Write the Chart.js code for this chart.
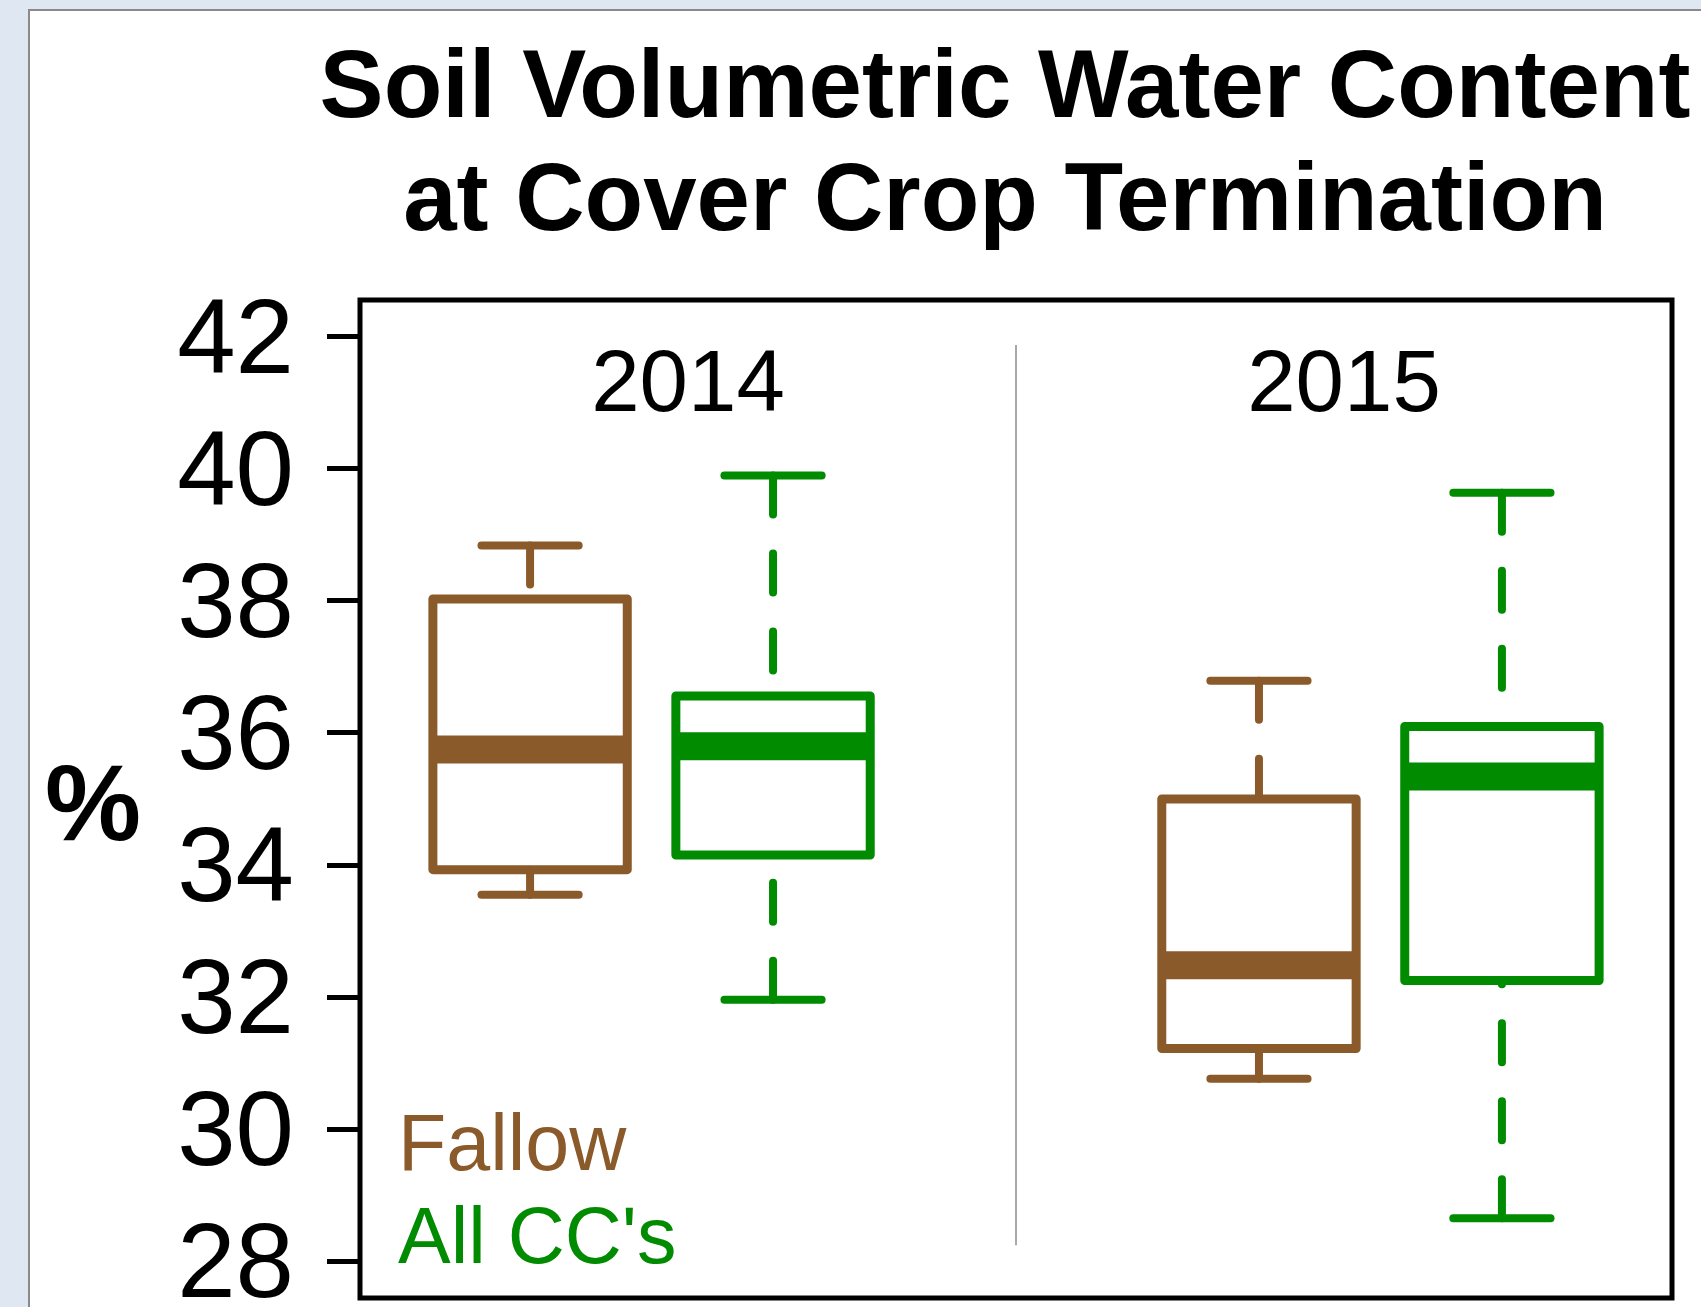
<!DOCTYPE html>
<html>
<head>
<meta charset="utf-8">
<script src="https://cdn.jsdelivr.net/npm/chart.js@4.4.0/dist/chart.umd.min.js"></script>
<style>
    html, body { margin: 0; padding: 0; background: #dfe7f2; overflow: hidden; }
    #panel { position: absolute; left: 28px; top: 9px; width: 1700px; height: 1320px; background: #fff; border: 2px solid #8a8a8a; }
    #chart { position: absolute; left: 0; top: 0; }
</style>
</head>
<body>
<div id="panel"></div>
<canvas id="chart" width="1701" height="1307"></canvas>
<script>
// box plot statistics, one entry per box (left to right)
const groups = ['Fallow', "All CC's", 'Fallow', "All CC's"];
const positions = [1, 2, 4, 5];
const upperWhisker = [38.84, 39.90, 36.79, 39.64];
const q3 = [38.03, 36.56, 35.00, 36.10];
const median = [35.75, 35.80, 32.48, 35.34];
const q1 = [33.93, 34.15, 31.22, 32.25];
const lowerWhisker = [33.55, 31.96, 30.76, 28.65];

const years = ['2014', '2015'];
const yTicks = [28, 30, 32, 34, 36, 38, 40, 42];
const legendLabels = ['Fallow', "All CC's"];
const dividerX = 3;
const dividerSpan = [41.88, 28.24];

const colors = { 'Fallow': '#8B5A2B', "All CC's": '#008B00' };
const family = '"Liberation Sans", Arial, Helvetica, sans-serif';
const boxHalf = 0.4;
const stapleHalf = 0.2;

const datasets = [];

// panel divider
datasets.push({
    data: [{x: dividerX, y: dividerSpan[0]}, {x: dividerX, y: dividerSpan[1]}],
    borderColor: '#a8a8a8', borderWidth: 2, order: 4
});

positions.forEach((x, i) => {
    const col = colors[groups[i]];
    const line = { borderColor: col, pointRadius: 0 };
    // dashed whiskers, drawn from the end toward the box
    datasets.push({ ...line, data: [{x, y: upperWhisker[i]}, {x, y: q3[i]}], borderWidth: 8, borderDash: [39, 39], borderCapStyle: 'round', order: 3 });
    datasets.push({ ...line, data: [{x, y: lowerWhisker[i]}, {x, y: q1[i]}], borderWidth: 8, borderDash: [39, 39], borderCapStyle: 'round', order: 3 });
    // staples
    datasets.push({ ...line, data: [{x: x - stapleHalf, y: upperWhisker[i]}, {x: x + stapleHalf, y: upperWhisker[i]}], borderWidth: 8, borderCapStyle: 'round', order: 2 });
    datasets.push({ ...line, data: [{x: x - stapleHalf, y: lowerWhisker[i]}, {x: x + stapleHalf, y: lowerWhisker[i]}], borderWidth: 8, borderCapStyle: 'round', order: 2 });
    // box
    datasets.push({ ...line, data: [
        {x: x - boxHalf, y: q1[i]}, {x: x + boxHalf, y: q1[i]},
        {x: x + boxHalf, y: q3[i]}, {x: x - boxHalf, y: q3[i]}, {x: x - boxHalf, y: q1[i]}
    ], borderWidth: 9, borderJoinStyle: 'round', borderCapStyle: 'round', backgroundColor: '#fff', fill: true, order: 1 });
    // median
    datasets.push({ ...line, data: [{x: x - boxHalf, y: median[i]}, {x: x + boxHalf, y: median[i]}], borderWidth: 28, borderCapStyle: 'butt', order: 0 });
});

const decor = {
    id: 'decor',
    afterDatasetsDraw(chart) {
        const {ctx, chartArea: a, scales: {x}} = chart;
        ctx.save();
        ctx.strokeStyle = '#000';
        ctx.lineWidth = 5;
        ctx.strokeRect(a.left, a.top, a.right - a.left, a.bottom - a.top);

        // year labels, centred in each half of the panel
        const mid = x.getPixelForValue(dividerX);
        ctx.fillStyle = '#000';
        ctx.font = '87px ' + family;
        ctx.textAlign = 'center';
        ctx.textBaseline = 'alphabetic';
        ctx.fillText(years[0], (a.left + mid) / 2, a.top + 111);
        ctx.fillText(years[1], (mid + a.right) / 2, a.top + 111);

        // legend text
        ctx.font = '79px ' + family;
        ctx.textAlign = 'left';
        ctx.fillStyle = colors[legendLabels[0]];
        ctx.fillText(legendLabels[0], a.left + 38, a.bottom - 128);
        ctx.fillStyle = colors[legendLabels[1]];
        ctx.fillText(legendLabels[1], a.left + 38, a.bottom - 35);
        ctx.restore();
    },
    afterDraw(chart) {
        const ctx = chart.ctx;
        ctx.save();
        ctx.fillStyle = '#000';
        ctx.textAlign = 'center';
        ctx.textBaseline = 'alphabetic';
        ctx.font = 'bold 96px ' + family;
        ctx.fillText('Soil Volumetric Water Content', 1005, 117);
        ctx.fillText('at Cover Crop Termination', 1005, 230);
        ctx.font = 'bold 108px ' + family;
        ctx.fillText('%', 93, 840);
        ctx.restore();
    }
};

new Chart(document.getElementById('chart'), {
    type: 'scatter',
    data: { datasets: datasets.map(d => ({ showLine: true, pointRadius: 0, tension: 0, ...d })) },
    options: {
        responsive: false,
        animation: false,
        devicePixelRatio: 1,
        layout: { padding: { left: 0, top: 300, right: 29, bottom: 9 } },
        plugins: { legend: { display: false }, tooltip: { enabled: false }, title: { display: false } },
        scales: {
            x: { type: 'linear', min: 0.3, max: 5.7, display: false },
            y: {
                type: 'linear',
                min: 27.44,
                max: 42.56,
                afterBuildTicks: scale => { scale.ticks = yTicks.map(v => ({ value: v })); },
                afterFit: scale => {
                    scale.width = 360;
                    scale.paddingTop = 0;
                    scale.paddingBottom = 0;
                },
                border: { display: false },
                grid: { drawOnChartArea: false, drawTicks: true, tickLength: 33, tickWidth: 5, tickColor: '#000' },
                ticks: { autoSkip: false, padding: 33, labelOffset: 7, color: '#000', font: { family: family, size: 105 } }
            }
        }
    },
    plugins: [decor]
});
</script>
</body>
</html>
